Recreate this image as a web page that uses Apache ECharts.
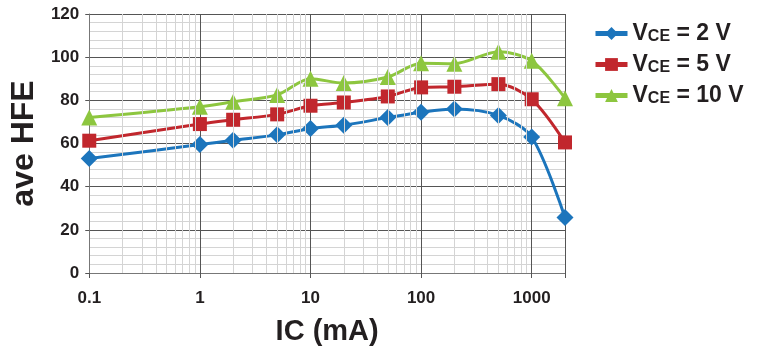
<!DOCTYPE html>
<html>
<head>
<meta charset="utf-8">
<script src="https://cdn.jsdelivr.net/npm/echarts@6/dist/echarts.min.js"></script>
<style>
html, body { margin: 0; padding: 0; background: #fff; }
#chart { width: 767px; height: 351px; }
</style>
</head>
<body>
<div id="chart"></div>
<script>
// collector current (mA) and average hFE for each VCE
var ic = [0.1, 1, 2, 5, 10, 20, 50, 100, 200, 500, 1000, 2000];
var hfe2V = [53, 59.5, 61.5, 64, 67, 68.5, 72, 74.5, 76, 73, 63, 25.7];
var hfe5V = [61.3, 69, 71, 73.5, 77.5, 79, 81.8, 86, 86.3, 87.5, 80.5, 60.5];
var hfe10V = [72, 77, 79.3, 82.5, 90, 88, 90.8, 97.2, 97, 102.5, 98.3, 81];
var xLabels = [0.1, 1, 10, 100, 1000];
var seriesNames = ['VCE = 2 V', 'VCE = 5 V', 'VCE = 10 V'];
var colors = ['#1c75bc', '#c1272d', '#8dc63f'];

function pairs(ys) {
    return ic.map(function (x, i) { return [x, ys[i]]; });
}

// minor log grid lines at 2..9 of every decade
var minorX = [];
[0.1, 1, 10, 100].forEach(function (d) {
    for (var k = 2; k <= 9; k++) minorX.push({ xAxis: +(k * d).toPrecision(3) });
});

var chart = echarts.init(document.getElementById('chart'));
var font = '"Liberation Sans", Arial, sans-serif';

function lineSeries(i, symbol, size, ys) {
    return {
        name: seriesNames[i], type: 'line', smooth: 0.3, z: 3,
        symbol: symbol, symbolSize: size,
        itemStyle: { color: colors[i] },
        lineStyle: { width: 3, color: colors[i] },
        data: pairs(ys)
    };
}

var option = {
    animation: false,
    textStyle: { fontFamily: font },
    grid: { left: 88, right: 202, top: 14, bottom: 77 },
    legend: {
        orient: 'vertical',
        left: 588,
        top: 17,
        itemWidth: 32,
        itemHeight: 16,
        itemGap: 8,
        lineStyle: { width: 5 },
        data: seriesNames,
        formatter: function (name) {
            return '{v|V}{s|CE}{v|' + name.replace('VCE', '') + '}';
        },
        textStyle: {
            color: '#231f20',
            rich: {
                v: { fontSize: 23, fontWeight: 'bold', fontFamily: font, color: '#231f20' },
                s: { fontSize: 16, fontWeight: 'bold', fontFamily: font, color: '#231f20', padding: [6, 0, 0, 0] }
            }
        }
    },
    xAxis: {
        type: 'log',
        logBase: 10,
        min: 0.1,
        max: 2000,
        name: 'IC (mA)',
        nameLocation: 'middle',
        nameGap: 44,
        nameTextStyle: { fontSize: 29, fontWeight: 'bold', color: '#231f20', fontFamily: font },
        axisLine: { show: true, onZero: false, lineStyle: { color: '#777', width: 1 } },
        axisTick: { show: true, length: 5, lineStyle: { color: '#555' } },
        axisLabel: {
            fontSize: 17, fontWeight: 'bold', color: '#231f20', margin: 17,
            formatter: function (v) {
                for (var i = 0; i < xLabels.length; i++) {
                    if (Math.abs(v - xLabels[i]) / xLabels[i] < 1e-6) return String(xLabels[i]);
                }
                return '';
            }
        },
        splitLine: { show: true, lineStyle: { color: '#555', width: 1 } }
    },
    yAxis: {
        type: 'value',
        min: 0,
        max: 120,
        interval: 20,
        name: 'ave HFE',
        nameLocation: 'middle',
        nameGap: 28,
        nameTextStyle: { fontSize: 32, fontWeight: 'bold', color: '#231f20', fontFamily: font },
        axisLine: { show: true, lineStyle: { color: '#777' } },
        axisTick: { show: true, length: 4, lineStyle: { color: '#555' } },
        axisLabel: { fontSize: 17, fontWeight: 'bold', color: '#231f20', margin: 10 },
        splitLine: { show: true, lineStyle: { color: '#555', width: 1 } },
        minorTick: { show: false, splitNumber: 5 },
        minorSplitLine: { show: true, lineStyle: { color: '#d4d4d4', width: 1 } }
    },
    series: [
        {
            name: 'grid',
            type: 'line',
            data: [],
            silent: true,
            z: 0,
            markLine: {
                silent: true,
                symbol: 'none',
                label: { show: false },
                lineStyle: { color: '#d4d4d4', width: 1, type: 'solid' },
                emphasis: { disabled: true },
                data: minorX
            }
        },
        lineSeries(0, 'diamond', 17, hfe2V),
        lineSeries(1, 'rect', 14, hfe5V),
        lineSeries(2, 'triangle', 16, hfe10V)
    ]
};
chart.setOption(option);

window.onresize = chart.resize;
</script>
</body>
</html>
